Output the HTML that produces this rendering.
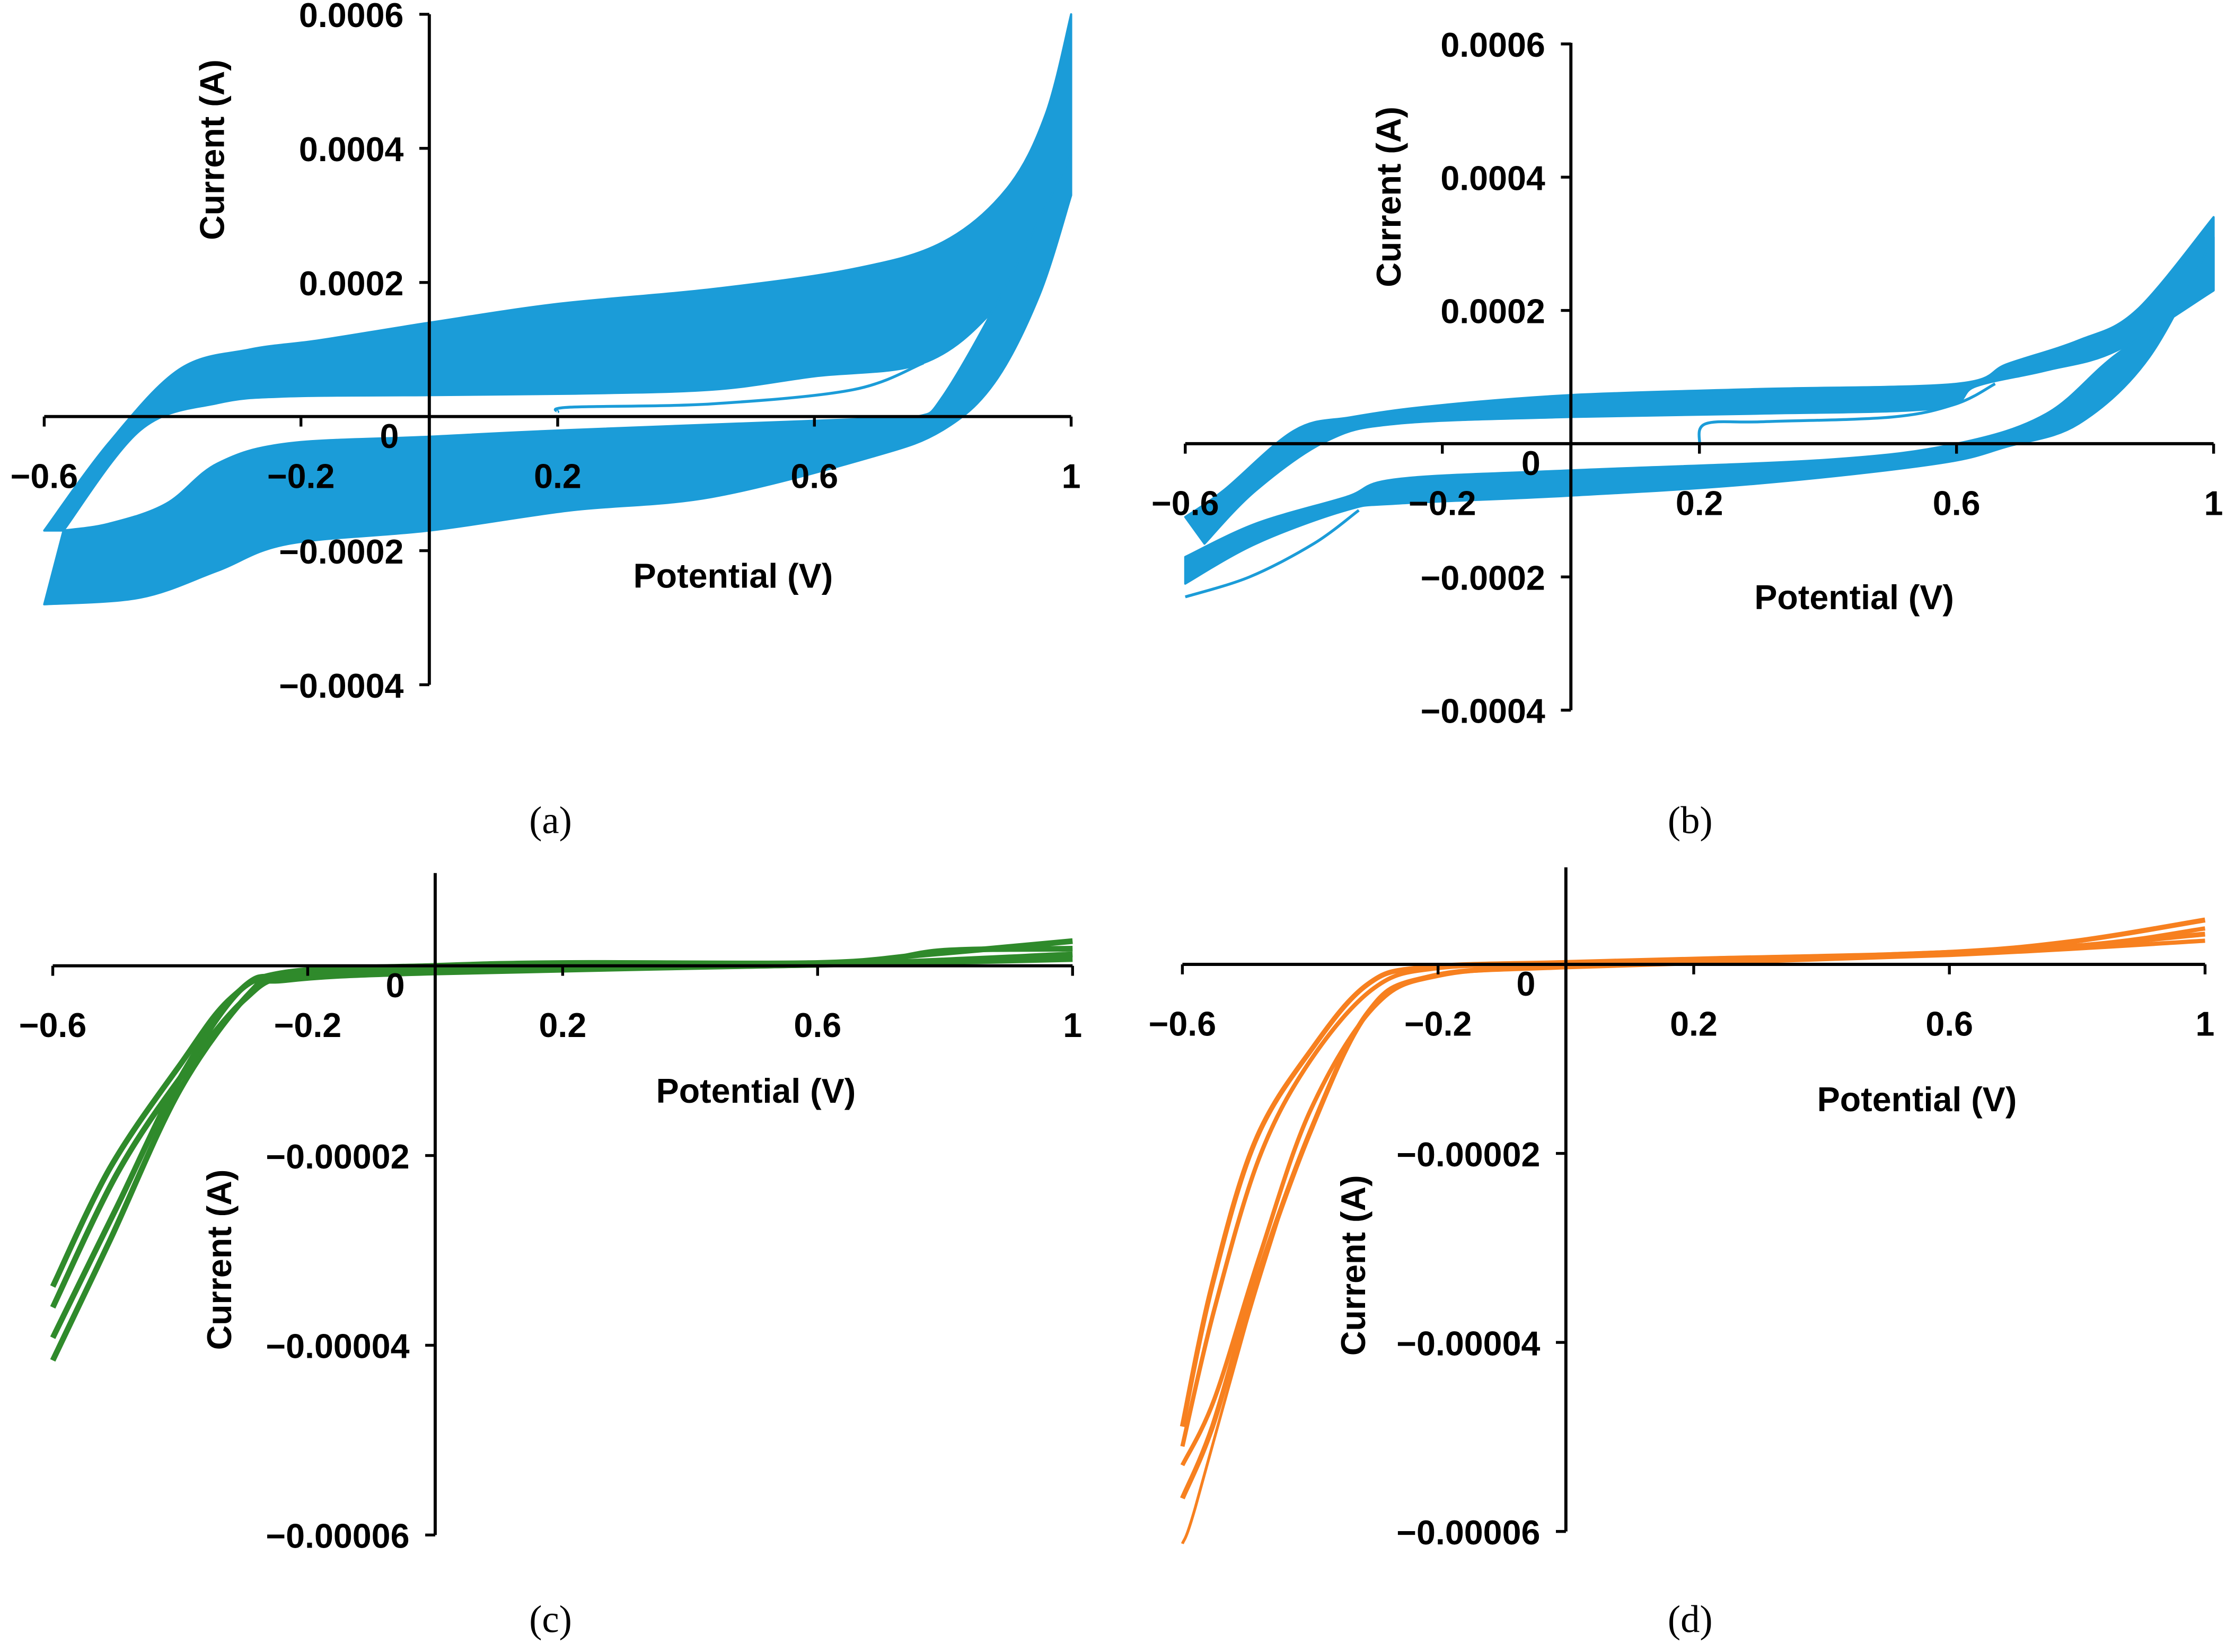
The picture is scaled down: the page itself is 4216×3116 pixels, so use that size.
<!DOCTYPE html>
<html><head><meta charset="utf-8">
<style>
html,body{margin:0;padding:0;background:#fff;}
svg{display:block;}
text{font-family:"Liberation Sans",Arial,sans-serif;font-weight:bold;fill:#000;}
.cap{font-family:"Liberation Serif","Times New Roman",serif;font-weight:normal;font-size:27px;}
</style></head>
<body>
<svg id="fig" width="4216" height="3116" viewBox="0 0 1567 1158" preserveAspectRatio="none" xmlns="http://www.w3.org/2000/svg"></svg>
<script>
// ---------- data (potential V, current A) ----------
const xTicks = [-0.6, -0.2, 0.2, 0.6, 1];
const xTickLabels = ["\u22120.6", "\u22120.2", "0.2", "0.6", "1"];
const yTicksAB = [0.0006, 0.0004, 0.0002, -0.0002, -0.0004];
const yTickLabelsAB = ["0.0006", "0.0004", "0.0002", "\u22120.0002", "\u22120.0004"];
const yTicksCD = [-0.00002, -0.00004, -0.00006];
const yTickLabelsCD = ["\u22120.00002", "\u22120.00004", "\u22120.00006"];

// panel a
const aFwdTopV = [-0.6,-0.5,-0.39,-0.28,-0.17,0,0.2,0.44,0.66,0.8,0.9,0.96,1];
const aFwdTopI = [-0.00017,-0.00004,0.00007,0.0001,0.000114,0.00014,0.000168,0.00019,0.00022,0.00026,0.00034,0.00045,0.0006];
const aFwdBotV = [-0.57,-0.45,-0.33,-0.22,0,0.22,0.44,0.6,0.77,0.88,0.95,1];
const aFwdBotI = [-0.00017,-0.00002,0.00002,0.00003,0.000032,0.000034,0.00004,0.00006,0.00008,0.00016,0.00027,0.00039];
const aRevInV = [1,0.89,0.8,0.76,0.66,0.22,0,-0.22,-0.33,-0.41,-0.5,-0.57];
const aRevInI = [0.00039,0.00018,0.00003,0,-0.000004,-0.00002,-0.00003,-0.00004,-0.00007,-0.00013,-0.00016,-0.00017];
const aRevOutV = [1,0.95,0.88,0.8,0.69,0.44,0.22,0,-0.22,-0.33,-0.45,-0.6];
const aRevOutI = [0.00033,0.00018,0.00005,-0.00002,-0.00006,-0.00012,-0.00014,-0.00017,-0.00019,-0.00023,-0.00027,-0.00028];
const aInitV = [0.2,0.22,0.44,0.66,0.77];
const aInitI = [0.000007,0.000014,0.000019,0.00004,0.00008];

// panel b
const bFwdTopV = [-0.6,-0.54,-0.43,-0.34,-0.21,0,0.29,0.6,0.68,0.79,0.88,1];
const bFwdTopI = [-0.00011,-0.00007,0.00002,0.00004,0.000057,0.000073,0.000082,0.00009,0.00012,0.000155,0.0002,0.00034];
const bFwdBotV = [-0.57,-0.49,-0.38,-0.27,0,0.29,0.57,0.63,0.74,0.85,1];
const bFwdBotI = [-0.00015,-0.00007,0.000004,0.00003,0.00004,0.000045,0.000053,0.000086,0.00011,0.00014,0.00023];
const bRevInV = [1,0.85,0.74,0.6,0.4,0,-0.27,-0.35,-0.49,-0.6];
const bRevInI = [0.00023,0.000135,0.000045,0,-0.000024,-0.00004,-0.000053,-0.00008,-0.00012,-0.00017];
const bRevOutV = [1,0.9,0.79,0.68,0.57,0.29,0,-0.27,-0.35,-0.49,-0.6];
const bRevOutI = [0.00031,0.00013,0.00003,-0.000004,-0.00003,-0.00006,-0.000078,-0.00009,-0.0001,-0.00015,-0.00021];
const bOutV = [-0.6,-0.5,-0.4,-0.33];
const bOutI = [-0.00023,-0.0002,-0.00015,-0.0001];
const bInitV = [0.2,0.21,0.3,0.5,0.6,0.66];
const bInitI = [0,0.00003,0.000033,0.00004,0.00006,0.00009];

// panel c (two cycles)
const cFwd1V = [-0.6,-0.51,-0.4,-0.32,-0.235,0,0.21,0.6,0.77,1];
const cFwd1I = [-0.0000338,-0.0000213,-0.0000104,-0.0000034,-0.0000007,0,0.0000003,0.0000003,0.0000012,0.0000026];
const cRev1V = [1,0.66,0,-0.235,-0.29,-0.4,-0.51,-0.6];
const cRev1I = [0.0000007,0.0000002,-0.0000007,-0.0000015,-0.0000028,-0.000013,-0.0000289,-0.0000416];
const cFwd2V = [-0.6,-0.5,-0.4,-0.3,-0.22,0,0.3,0.65,0.8,1];
const cFwd2I = [-0.000036,-0.000022,-0.0000118,-0.0000036,-0.0000009,-0.0000002,0.0000002,0.0000003,0.0000016,0.0000018];
const cRev2V = [1,0.6,0,-0.22,-0.3,-0.4,-0.5,-0.6];
const cRev2I = [0.0000012,0.0000001,-0.0000005,-0.0000012,-0.0000022,-0.0000118,-0.0000255,-0.0000392];

// panel d (two cycles + outlier)
const dFwd1V = [-0.6,-0.553,-0.486,-0.397,-0.31,-0.22,0,0.23,0.58,0.79,1];
const dFwd1I = [-0.0000489,-0.0000338,-0.0000187,-0.0000089,-0.0000021,-0.0000003,0.0000002,0.0000006,0.0000012,0.0000024,0.0000047];
const dRev1V = [1,0.67,0,-0.22,-0.31,-0.397,-0.486,-0.553,-0.6];
const dRev1I = [0.0000032,0.0000014,-0.00000015,-0.0000014,-0.0000051,-0.0000172,-0.0000338,-0.0000489,-0.0000565];
const dFwd2V = [-0.6,-0.55,-0.48,-0.4,-0.3,-0.2,0,0.4,0.8,1];
const dFwd2I = [-0.000051,-0.0000365,-0.0000205,-0.0000102,-0.0000025,-0.0000004,0,0.0000008,0.000002,0.0000038];
const dRev2V = [1,0.6,0,-0.2,-0.3,-0.4,-0.48,-0.55,-0.6];
const dRev2I = [0.0000025,0.000001,-0.0000003,-0.0000012,-0.0000045,-0.0000155,-0.000031,-0.000046,-0.000053];
const dOutV = [-0.6,-0.58,-0.5,-0.45];
const dOutI = [-0.0000613,-0.0000575,-0.000038,-0.000027];

// ---------- drawing ----------
const NS = "http://www.w3.org/2000/svg";
const svg = document.getElementById("fig");
function mk(tag, attrs, parent) {
  const e = document.createElementNS(NS, tag);
  for (const k in attrs) e.setAttribute(k, attrs[k]);
  (parent || svg).appendChild(e);
  return e;
}
const FS = 24;
function makePanel(p) {
  const sx = v => p.x0 + (v + 0.6) / 1.6 * (p.x1 - p.x0);
  const sy = i => p.y0 - i * p.k;
  p.sx = sx; p.sy = sy;
  const g = mk("g", {});
  
  
  p.g = g;
  p.marks = mk("g", {}, g);
  const ax = sx(0);
  const xa = mk("line", {x1: sx(-0.6), x2: sx(1), y1: p.y0, y2: p.y0, stroke: "#000", "stroke-width": 2.2}, g);
  
  
  const ya = mk("line", {x1: ax, x2: ax, y1: p.yTop, y2: sy(p.yMin), stroke: "#000", "stroke-width": 2.2}, g);
  
  
  xTicks.forEach((v, j) => {
    mk("line", {x1: sx(v), x2: sx(v), y1: p.y0, y2: p.y0 + 7, stroke: "#000", "stroke-width": 2}, g);
    const t = mk("text", {x: sx(v), y: p.y0 + 50, "text-anchor": "middle", "font-size": FS}, g);
    t.textContent = xTickLabels[j];
    
    
  });
  p.yt.forEach((v, j) => {
    mk("line", {x1: ax - 7, x2: ax, y1: sy(v), y2: sy(v), stroke: "#000", "stroke-width": 2}, g);
    const t = mk("text", {x: ax - 18, y: sy(v) + 9, "text-anchor": "end", "font-size": FS}, g);
    t.textContent = p.yl[j];
    
    
  });
  const z = mk("text", {x: ax - 28, y: p.y0 + 22, "text-anchor": "middle", "font-size": FS}, g);
  z.textContent = "0";
  
  
  const xt = mk("text", {x: p.xtX, y: p.xtY, "text-anchor": "middle", "font-size": FS}, g);
  xt.textContent = "Potential (V)";
  
  
  const yt = mk("text", {x: 0, y: 0, "text-anchor": "middle", "font-size": FS, transform: `translate(${p.ytX},${p.ytY}) rotate(-90)`}, g);
  yt.textContent = "Current (A)";
  
  
  const c = mk("text", {x: p.capX, y: p.capY, "text-anchor": "middle", class: "cap"}, g);
  c.textContent = p.cap;
  
  
  return p;
}
function pts(p, V, I) { return V.map((v, i) => [p.sx(v), p.sy(I[i])]); }
function smooth(P, moveFirst) {
  let d = (moveFirst ? "M" : "L") + P[0][0].toFixed(1) + "," + P[0][1].toFixed(1);
  for (let i = 0; i < P.length - 1; i++) {
    const p0 = P[i - 1] || P[i], p1 = P[i], p2 = P[i + 1], p3 = P[i + 2] || P[i + 1];
    const c1 = [p1[0] + (p2[0] - p0[0]) / 6, p1[1] + (p2[1] - p0[1]) / 6];
    const c2 = [p2[0] - (p3[0] - p1[0]) / 6, p2[1] - (p3[1] - p1[1]) / 6];
    d += "C" + c1.map(n => n.toFixed(1)).join(",") + " " + c2.map(n => n.toFixed(1)).join(",") + " " + p2.map(n => n.toFixed(1)).join(",");
  }
  return d;
}
function band(p, V1, I1, V2, I2, color, name) {
  const a = pts(p, V1, I1), b = pts(p, V2, I2).reverse();
  const e = mk("path", {d: smooth(a, true) + smooth(b, false) + "Z", fill: color, stroke: color, "stroke-width": 1.5, "stroke-linejoin": "round"}, p.marks);
  
  
}
function line(p, V, I, color, w, name) {
  const e = mk("path", {d: smooth(pts(p, V, I), true), fill: "none", stroke: color, "stroke-width": w, "stroke-linejoin": "round"}, p.marks);
  
  
}

const blue = "#1b9cd8", green = "#2f8a2b", orange = "#f7801f";

const pa = makePanel({name: "panel-a", x0: 31, x1: 751, y0: 292, k: 94 / 0.0002, yTop: 10, yMin: -0.0004,
  yt: yTicksAB, yl: yTickLabelsAB, xtX: 514, xtY: 412, ytX: 157, ytY: 105, cap: "(a)", capX: 386, capY: 584});
band(pa, aFwdTopV, aFwdTopI, aFwdBotV, aFwdBotI, blue, "anodic-band");
band(pa, aRevInV, aRevInI, aRevOutV, aRevOutI, blue, "cathodic-band");
line(pa, aInitV, aInitI, blue, 2, "initial-sweep");

const pb = makePanel({name: "panel-b", x0: 831, x1: 1552, y0: 311, k: 93.4 / 0.0002, yTop: 30, yMin: -0.0004,
  yt: yTicksAB, yl: yTickLabelsAB, xtX: 1300, xtY: 427, ytX: 982, ytY: 138, cap: "(b)", capX: 1185, capY: 584});
band(pb, bFwdTopV, bFwdTopI, bFwdBotV, bFwdBotI, blue, "anodic-band");
band(pb, bRevInV, bRevInI, bRevOutV, bRevOutI, blue, "cathodic-band");
line(pb, bOutV, bOutI, blue, 2, "first-cycle");
line(pb, bInitV, bInitI, blue, 2, "initial-sweep");

const pc = makePanel({name: "panel-c", x0: 37, x1: 752, y0: 677, k: 133 / 0.00002, yTop: 612, yMin: -0.00006,
  yt: yTicksCD, yl: yTickLabelsCD, xtX: 530, xtY: 773, ytX: 162, ytY: 883, cap: "(c)", capX: 386, capY: 1144});
line(pc, cFwd1V, cFwd1I, green, 4, "cycle-1-forward");
line(pc, cRev1V, cRev1I, green, 4, "cycle-1-reverse");
line(pc, cFwd2V, cFwd2I, green, 4, "cycle-2-forward");
line(pc, cRev2V, cRev2I, green, 4, "cycle-2-reverse");

const pd = makePanel({name: "panel-d", x0: 829, x1: 1546, y0: 676, k: 132.5 / 0.00002, yTop: 608, yMin: -0.00006,
  yt: yTicksCD, yl: yTickLabelsCD, xtX: 1344, xtY: 779, ytX: 957, ytY: 887, cap: "(d)", capX: 1185, capY: 1144});
line(pd, dFwd1V, dFwd1I, orange, 3.5, "cycle-1-forward");
line(pd, dRev1V, dRev1I, orange, 3.5, "cycle-1-reverse");
line(pd, dFwd2V, dFwd2I, orange, 3, "cycle-2-forward");
line(pd, dRev2V, dRev2I, orange, 3, "cycle-2-reverse");
line(pd, dOutV, dOutI, orange, 2, "outlier-cycle");
</script>
</body></html>
